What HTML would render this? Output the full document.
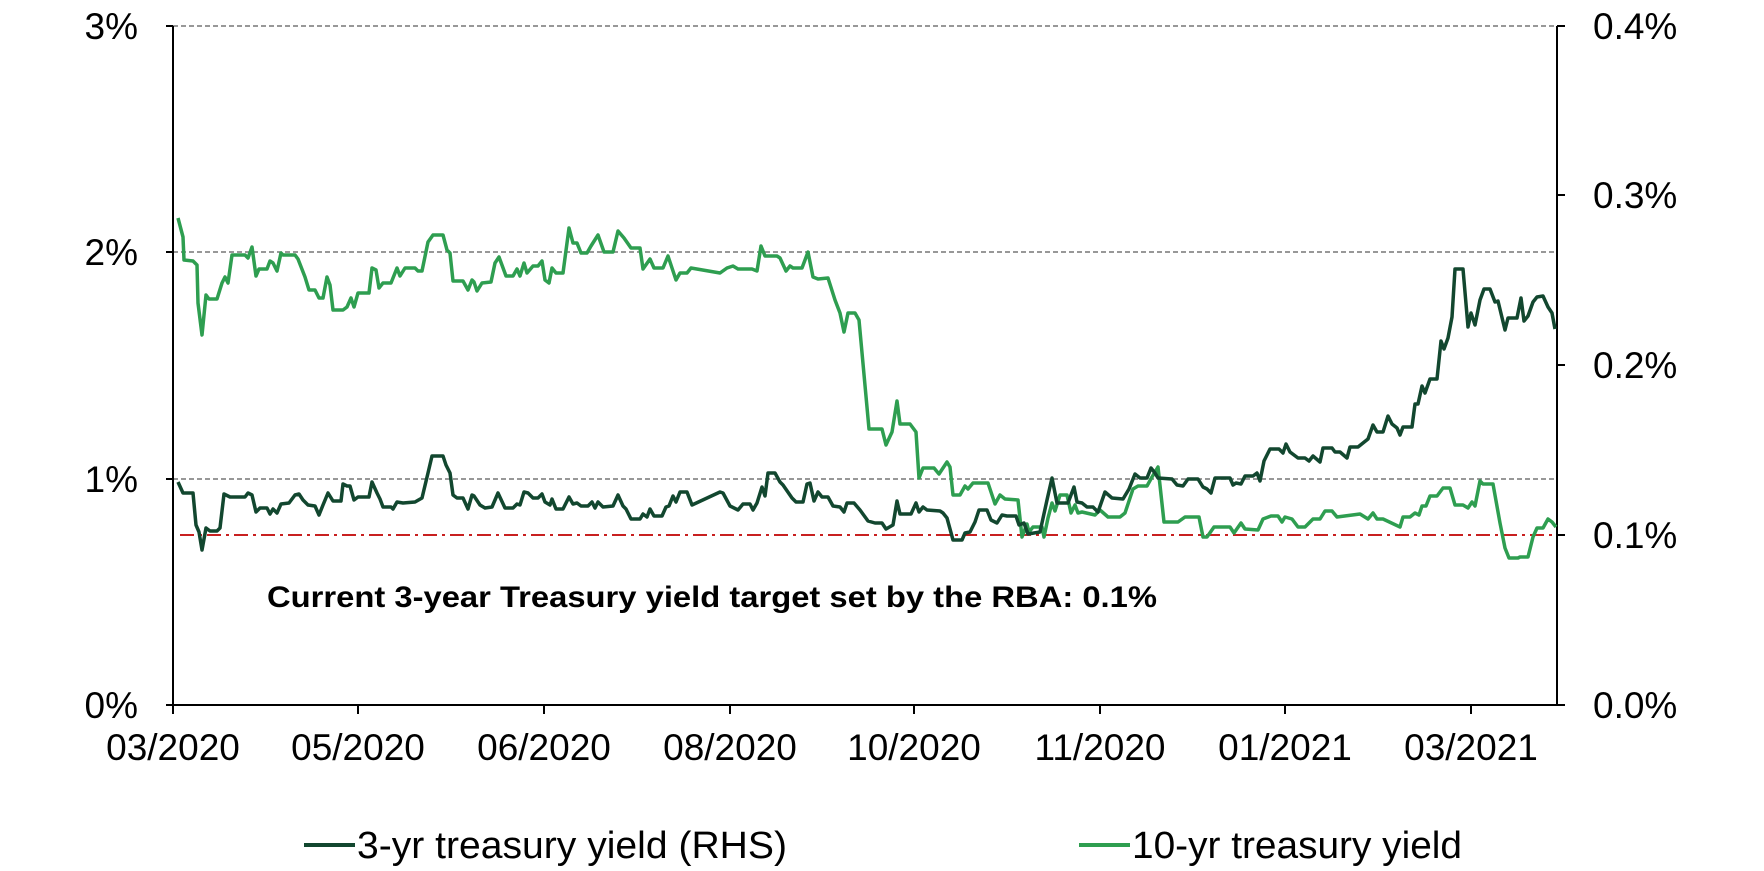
<!DOCTYPE html>
<html><head><meta charset="utf-8"><style>html,body{margin:0;padding:0;background:#fff}svg{display:block}</style></head>
<body>
<svg width="1764" height="871" viewBox="0 0 1764 871" xmlns="http://www.w3.org/2000/svg" font-family="Liberation Sans, Arial, sans-serif">
<rect width="1764" height="871" fill="#fff"/>
<g stroke="#777" stroke-width="1.5" stroke-dasharray="5,3">
<line x1="173" y1="26" x2="1557" y2="26"/>
<line x1="173" y1="252" x2="1557" y2="252"/>
<line x1="173" y1="479" x2="1557" y2="479"/>
</g>
<line x1="180" y1="535" x2="1557" y2="535" stroke="#c00000" stroke-width="1.8" stroke-dasharray="14,5,3,5"/>
<g stroke="#000" stroke-width="2" fill="none">
<line x1="173" y1="26" x2="173" y2="706"/>
<line x1="1557" y1="26" x2="1557" y2="706"/>
<line x1="173" y1="705" x2="1557" y2="705"/>
<line x1="166" y1="26" x2="173" y2="26"/><line x1="166" y1="252" x2="173" y2="252"/><line x1="166" y1="479" x2="173" y2="479"/><line x1="166" y1="705" x2="173" y2="705"/>
<line x1="1557" y1="26" x2="1565" y2="26"/><line x1="1557" y1="195" x2="1565" y2="195"/><line x1="1557" y1="365" x2="1565" y2="365"/><line x1="1557" y1="535" x2="1565" y2="535"/><line x1="1557" y1="705" x2="1565" y2="705"/>
<line x1="173" y1="705" x2="173" y2="714"/><line x1="358" y1="705" x2="358" y2="714"/><line x1="544" y1="705" x2="544" y2="714"/><line x1="730" y1="705" x2="730" y2="714"/><line x1="914" y1="705" x2="914" y2="714"/><line x1="1100" y1="705" x2="1100" y2="714"/><line x1="1285" y1="705" x2="1285" y2="714"/><line x1="1471" y1="705" x2="1471" y2="714"/>
</g>
<g font-size="37" fill="#000">
<text x="138" y="39" text-anchor="end">3%</text>
<text x="138" y="265" text-anchor="end">2%</text>
<text x="138" y="492" text-anchor="end">1%</text>
<text x="138" y="718" text-anchor="end">0%</text>
<text x="1593" y="39">0.4%</text>
<text x="1593" y="208">0.3%</text>
<text x="1593" y="378">0.2%</text>
<text x="1593" y="548">0.1%</text>
<text x="1593" y="718">0.0%</text>
<g text-anchor="middle">
<text x="173" y="760">03/2020</text><text x="358" y="760">05/2020</text><text x="544" y="760">06/2020</text><text x="730" y="760">08/2020</text><text x="914" y="760">10/2020</text><text x="1100" y="760">11/2020</text><text x="1285" y="760">01/2021</text><text x="1471" y="760">03/2021</text>
</g>
<text x="357" y="858" font-size="38" textLength="430" lengthAdjust="spacingAndGlyphs">3-yr treasury yield (RHS)</text>
<text x="1132" y="858" font-size="38" textLength="330" lengthAdjust="spacingAndGlyphs">10-yr treasury yield</text>
</g>
<line x1="304" y1="845" x2="355" y2="845" stroke="#12472f" stroke-width="4"/>
<line x1="1079" y1="845" x2="1130" y2="845" stroke="#2e9e50" stroke-width="4"/>
<text x="267" y="607" font-size="30" font-weight="bold" textLength="890" lengthAdjust="spacingAndGlyphs">Current 3-year Treasury yield target set by the RBA: 0.1%</text>
<polyline fill="none" stroke="#2e9e50" stroke-width="3.5" stroke-linejoin="round" points="178,218 183,237 184,260 193,261 197,265 198,303 202,335 206,295 209,299 217,299 222,283 225,277 228,283 232,255 245,255 248,258 252,247 256,276 259,269 267,269 270,261 273,263 277,271 281,253 283,255 295,255 298,259 305,277 309,290 315,290 319,298 323,298 327,277 330,285 333,310 343,310 347,307 351,298 354,307 358,293 369,293 372,268 376,270 379,288 383,283 391,283 397,268 400,276 405,268 415,268 418,271 422,271 428,242 433,235 443,235 447,250 450,253 453,281 463,281 468,290 472,280 474,282 477,291 482,283 491,282 495,263 499,257 506,276 513,276 517,269 520,276 524,263 527,273 533,266 538,266 542,261 545,280 549,283 552,268 556,273 563,273 569,228 573,243 577,243 581,253 587,253 591,246 598,235 604,252 613,252 618,231 624,238 631,248 640,248 643,269 650,259 654,268 663,268 668,256 676,280 680,273 687,273 691,268 720,273 727,268 733,266 738,269 752,269 757,271 761,246 765,256 777,256 780,258 786,271 790,266 793,268 802,268 808,252 813,277 818,279 828,278 835,300 840,313 844,332 848,313 855,313 859,320 869,429 882,429 886,445 892,432 897,401 900,424 910,424 916,432 919,478 923,468 934,468 939,474 947,462 950,467 953,495 960,495 965,486 968,489 973,483 988,483 995,504 1000,495 1005,499 1018,500 1022,537 1027,524 1029,532 1033,527 1042,527 1044,537 1048,518 1052,503 1055,511 1060,495 1067,495 1071,513 1075,505 1078,513 1082,512 1095,515 1100,510 1108,517 1120,517 1125,513 1133,489 1138,486 1147,486 1152,477 1158,467 1164,522 1178,522 1185,517 1199,517 1203,537 1207,537 1214,527 1230,527 1234,533 1241,523 1245,529 1258,530 1263,519 1271,516 1278,516 1282,522 1285,517 1292,519 1298,527 1305,527 1313,519 1320,519 1325,511 1332,511 1337,517 1360,514 1368,519 1373,513 1377,519 1383,519 1400,527 1403,517 1410,517 1415,513 1419,515 1422,506 1426,506 1430,496 1437,496 1443,488 1450,488 1455,505 1463,505 1468,508 1472,502 1475,506 1480,481 1483,484 1493,484 1500,523 1505,548 1509,558 1518,558 1520,557 1528,557 1533,537 1537,528 1543,528 1548,519 1552,522 1556,527"/>
<polyline fill="none" stroke="#12472f" stroke-width="3.5" stroke-linejoin="round" points="178,482 183,493 193,493 196,525 199,532 202,550 206,528 210,531 217,531 220,528 224,494 230,497 245,497 248,493 252,495 256,512 260,508 267,508 270,514 273,509 277,513 281,504 289,503 295,495 299,494 303,500 308,505 315,506 319,515 323,505 328,493 333,501 341,501 343,484 347,486 350,486 354,500 358,497 369,497 372,482 377,493 380,499 383,507 391,507 393,509 397,502 403,503 415,502 422,498 428,473 432,456 443,456 446,465 450,473 453,495 457,498 463,498 468,509 472,495 474,496 480,505 485,508 492,507 498,493 505,508 513,508 517,504 520,505 524,492 528,493 533,498 538,498 542,494 545,502 550,505 552,499 556,509 563,509 569,497 573,504 577,503 581,506 588,506 592,502 595,508 598,502 603,507 613,506 618,495 623,506 626,509 631,519 640,519 643,514 647,517 650,509 654,516 662,516 666,507 669,506 673,496 676,502 680,492 687,492 692,505 720,492 723,493 730,506 738,510 743,504 750,504 753,510 757,503 762,487 765,496 768,473 775,473 780,482 783,485 792,498 796,502 803,502 807,484 810,483 814,501 818,492 822,497 828,497 833,506 840,507 844,512 847,503 854,503 860,510 868,521 875,523 882,523 886,529 893,525 897,501 900,514 911,514 916,503 919,512 923,507 927,510 940,511 943,513 947,518 953,540 962,540 965,533 970,532 975,522 979,510 987,510 991,520 997,523 1002,515 1007,516 1016,516 1019,525 1024,523 1028,534 1040,532 1047,500 1052,478 1055,493 1057,503 1068,503 1074,487 1077,502 1082,503 1087,507 1093,507 1098,512 1105,492 1112,498 1123,499 1129,489 1135,474 1140,478 1147,478 1151,468 1155,473 1158,478 1172,479 1177,485 1183,486 1188,479 1198,479 1203,487 1207,489 1211,493 1215,478 1230,478 1233,485 1236,483 1241,484 1245,476 1253,476 1257,473 1260,481 1264,461 1270,449 1279,449 1283,453 1286,444 1290,452 1298,458 1305,458 1309,461 1313,456 1320,462 1323,448 1332,448 1335,452 1340,452 1347,458 1350,447 1358,447 1363,443 1368,439 1373,425 1377,432 1383,432 1388,416 1392,424 1397,428 1400,435 1403,427 1412,427 1415,404 1418,404 1422,386 1425,393 1430,379 1437,379 1441,341 1444,349 1448,338 1452,317 1455,269 1463,269 1468,327 1471,313 1475,325 1480,300 1484,289 1490,289 1495,302 1498,301 1505,330 1508,318 1517,318 1521,298 1524,321 1528,316 1533,302 1537,297 1543,296 1548,307 1552,313 1555,329"/>
</svg>
</body></html>
